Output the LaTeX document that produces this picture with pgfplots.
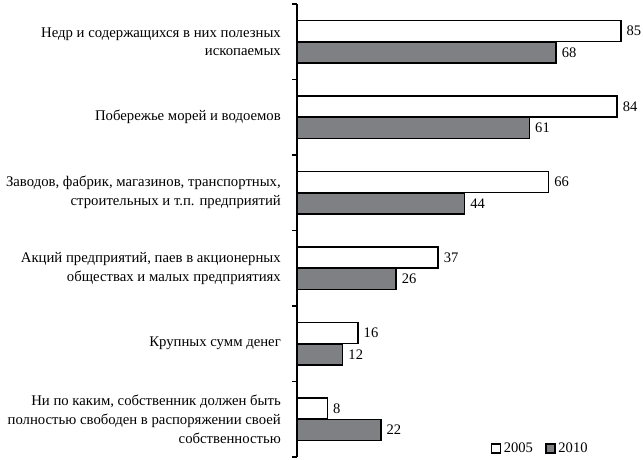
\documentclass[border=0pt]{standalone}
\usepackage{pgfplots}
\pgfplotsset{compat=1.18}
\usepackage{fontspec}
\setmainfont{Liberation Serif}
\definecolor{bargray}{RGB}{127,128,131}
\begin{document}
\begin{tikzpicture}
\path[use as bounding box] (0,0) rectangle (643bp,460bp);
\begin{axis}[
    at={(297bp,3bp)}, anchor=south west,
    scale only axis,
    width=343bp, height=453bp,
    xbar, bar width=21bp,
    xmin=0, xmax=90,
    ymin=-0.5, ymax=5.5,
    axis x line=none,
    axis y line=left,
    y axis line style={-, line width=1.6bp},
    clip=false,
    /pgf/number format/assume math mode=true,
    font=\fontsize{14.8}{19}\selectfont,
    ytick={0,1,2,3,4,5},
    major tick length=0pt,
    yticklabels={
      {Ни по каким, собственник должен быть\\полностью свободен в распоряжении своей\\собственностью},
      {Крупных сумм денег},
      {Акций предприятий, паев в акционерных\\обществах и малых предприятиях},
      {Заводов, фабрик, магазинов, транспортных,\\строительных и т.п. предприятий},
      {Побережье морей и водоемов},
      {Недр и содержащихся в них полезных\\ископаемых}},
    yticklabel style={align=right, inner sep=0pt, xshift=-16bp},
    extra y ticks={-0.5,0.5,1.5,2.5,3.5,4.5,5.5},
    extra y tick labels={},
    extra tick style={major tick length=5bp, tick align=outside,
        tick style={line width=1.6bp, black}},
    nodes near coords,
    every node near coord/.append style={font=\fontsize{14.6}{16}\selectfont, black, inner sep=5bp},
    legend columns=2,
    legend style={draw=none, fill=none, at={(0.855,0.0)}, anchor=south east,
        font=\fontsize{14.6}{16}\selectfont, inner sep=0pt,
        nodes={inner sep=2.5bp},
        /tikz/every even column/.append style={column sep=10bp}},
    legend image code/.code={\draw[#1, line width=1.5bp] (0bp,-4.5bp) rectangle (9bp,4.5bp);},
]
\addplot[draw=black, line width=1.5bp, fill=white, bar shift=10.75bp]
  coordinates {(8,0) (16,1) (37,2) (66,3) (84,4) (85,5)};
\addplot[draw=black, line width=1.5bp, fill=bargray, bar shift=-10.75bp]
  coordinates {(22,0) (12,1) (26,2) (44,3) (61,4) (68,5)};
\legend{2005,2010}
\end{axis}
\end{tikzpicture}
\end{document}
